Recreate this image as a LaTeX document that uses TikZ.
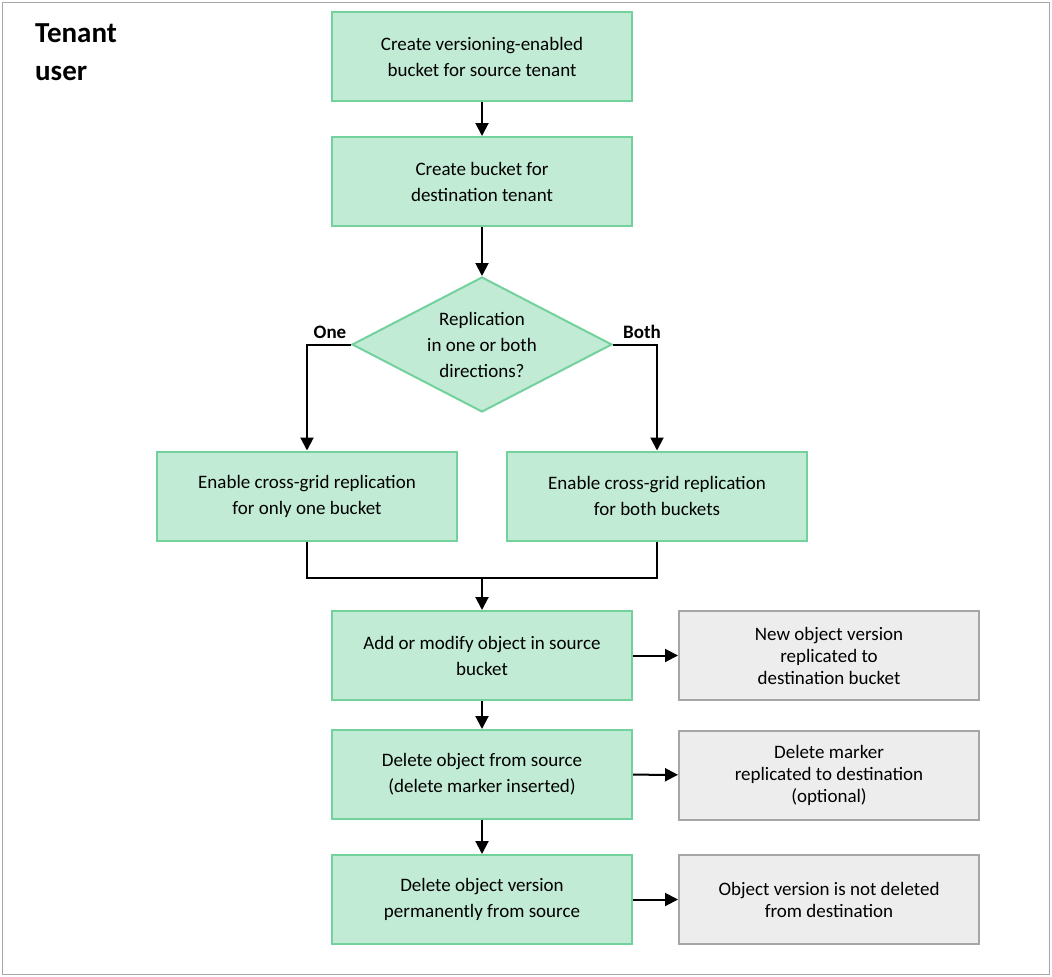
\documentclass[tikz,border=0pt]{standalone}
\usepackage{fontspec}
\setmainfont{Carlito}
\usetikzlibrary{shapes.geometric,arrows.meta}
\definecolor{gfill}{HTML}{C1EBD5}
\definecolor{gline}{HTML}{72D19C}
\definecolor{yfill}{HTML}{EDEDED}
\definecolor{yline}{HTML}{A6A6A6}
\begin{document}
\begin{tikzpicture}[x=1pt,y=-1pt,
  gbox/.style={draw=gline,fill=gfill,line width=2pt,minimum width=300pt,minimum height=89pt,align=center,font=\fontsize{19}{26}\selectfont,inner sep=0pt},
  ybox/.style={gbox,draw=yline,fill=yfill,font=\fontsize{19}{22}\selectfont},
  arr/.style={line width=2pt,-{Triangle[length=13pt,width=13pt]}},
  ln/.style={line width=2pt}]
\useasboundingbox (0,0) rectangle (1052,977);
\draw[yline,line width=1pt] (2,2) rectangle (1049,974);
\node[font=\fontsize{29}{38}\selectfont\bfseries,align=left] (t) at (76,52) {Tenant\\user};
\node[gbox] (b1) at (482,56.5) {Create versioning-enabled\\bucket for source tenant};
\node[gbox] (b2) at (482,181.5) {Create bucket for\\destination tenant};
\node[diamond,draw=gline,fill=gfill,line width=2pt,minimum width=260pt,minimum height=135pt,aspect=1.93,inner sep=0pt,align=center,font=\fontsize{19}{26}\selectfont] (d) at (482,344.5) {Replication\\in one or both\\directions?};
\node[gbox] (l) at (307,496) {Enable cross-grid replication\\for only one bucket};
\node[gbox] (r) at (657,496) {Enable cross-grid replication\\for both buckets};
\node[gbox] (a) at (482,655.5) {Add or modify object in source\\bucket};
\node[gbox] (del) at (482,774.5) {Delete object from source\\(delete marker inserted)};
\node[gbox] (p) at (482,899.5) {Delete object version\\permanently from source};
\node[ybox] (ga) at (829,655.5) {New object version\\replicated to\\destination bucket};
\node[ybox] (gd) at (829,775) {Delete marker\\replicated to destination\\(optional)};
\node[ybox] (gp) at (829,899.5) {Object version is not deleted\\from destination};
\node[font=\fontsize{19}{22}\selectfont\bfseries] (one) at (330,332) {One};
\node[font=\fontsize{19}{22}\selectfont\bfseries] (both) at (642,332) {Both};
\coordinate (m) at (482,578);
\draw[arr] (b1) -- (b2);
\draw[arr] (b2) -- (d);
\draw[arr] (d.west) -| (l.north);
\draw[arr] (d.east) -| (r.north);
\draw[ln] (l.south) |- (m) -| (r.south);
\draw[arr] (m) -- (a);
\draw[arr] (a) -- (del);
\draw[arr] (del) -- (p);
\draw[arr] (a) -- (ga);
\draw[arr] (del) -- (gd);
\draw[arr] (p) -- (gp);
\end{tikzpicture}
\end{document}
